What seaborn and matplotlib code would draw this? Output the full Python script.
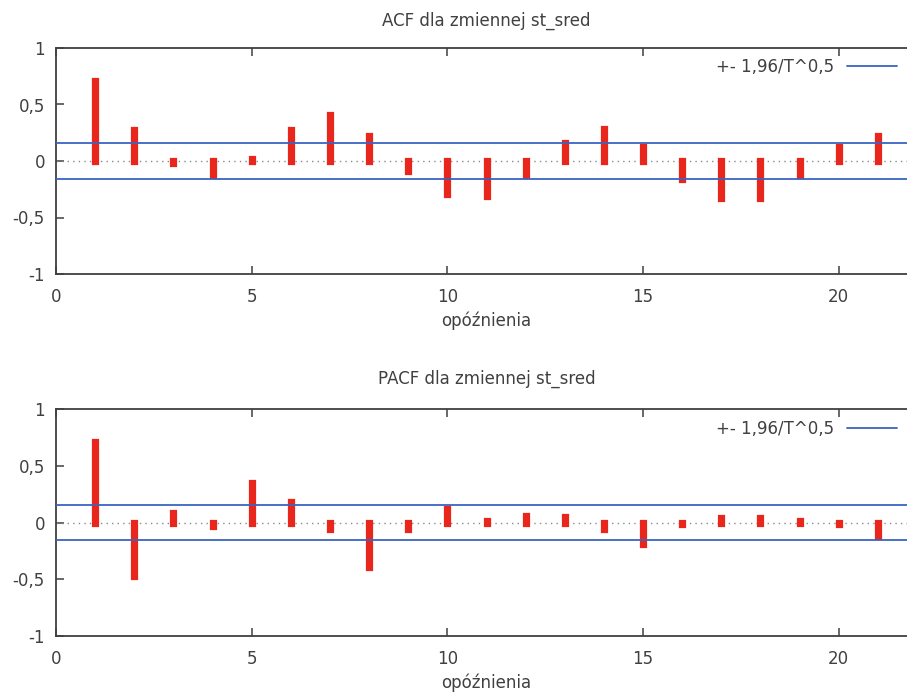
import matplotlib
matplotlib.use("Agg")
import matplotlib.pyplot as plt
import seaborn as sns
from matplotlib.lines import Line2D

# lags and correlation values
lags = [1, 2, 3, 4, 5, 6, 7, 8, 9, 10, 11, 12, 13, 14, 15, 16, 17, 18, 19, 20, 21]
acf_vals = [0.71, 0.27, -0.02, -0.12, 0.02, 0.27, 0.41, 0.22, -0.09, -0.29,
            -0.31, -0.12, 0.16, 0.28, 0.12, -0.16, -0.33, -0.33, -0.12, 0.12, 0.22]
pacf_vals = [0.71, -0.47, 0.08, -0.03, 0.35, 0.18, -0.06, -0.39, -0.06, 0.12,
             0.01, 0.06, 0.05, -0.06, -0.19, -0.01, 0.04, 0.04, 0.01, -0.01, -0.12]
band = 0.157

titles = ["ACF dla zmiennej st_sred", "PACF dla zmiennej st_sred"]
x_label = "opóźnienia"
legend_label = "+- 1,96/T^0,5"
x_ticks = [0, 5, 10, 15, 20]
y_ticks = [-1, -0.5, 0, 0.5, 1]
y_tick_labels = ["-1", "-0,5", "0", "0,5", "1"]

sns.set_theme(style="ticks")
plt.rcParams['font.family'] = ['DejaVu Sans']
txt = '#404040'
red = '#e8261c'
blue = '#3a64c2'
fs = 12

fig = plt.figure(figsize=(9.07, 6.96), dpi=100)
# right spine falls outside the picture, like in the reference crop
ax_top = fig.add_axes([56 / 907, 1 - 274 / 696, 861 / 907, 226 / 696])
ax_bot = fig.add_axes([56 / 907, 1 - 636 / 696, 861 / 907, 227 / 696])

panels = [(ax_top, acf_vals, titles[0], 16, 1 - 58 / 696),
          (ax_bot, pacf_vals, titles[1], 18.5, 1 - 420 / 696)]

for ax, vals, title, tpad, leg_y in panels:
    ax.axhline(0, color='#8a8a8a', lw=1.0, ls=(0, (1, 3)), zorder=1)
    ax.axhline(band, color=blue, lw=1.3, zorder=3)
    ax.axhline(-band, color=blue, lw=1.3, zorder=3)
    ax.vlines(lags, 0, vals, colors=red, linewidth=5.2, capstyle='projecting', zorder=2)

    ax.set_xlim(0, 22)
    ax.set_ylim(-1, 1)
    ax.set_xticks(x_ticks)
    ax.set_yticks(y_ticks)
    ax.set_yticklabels(y_tick_labels)
    ax.tick_params(axis='x', direction='in', top=True, bottom=True, length=6, width=1.1,
                   colors=txt, labelsize=fs, pad=10)
    ax.tick_params(axis='y', direction='in', left=True, right=True, length=6, width=1.1,
                   colors=txt, labelsize=fs, pad=8)
    for s in ax.spines.values():
        s.set_color(txt)
        s.set_linewidth(1.3)

    ax.set_title(title, fontsize=fs, color=txt, pad=tpad)
    ax.set_xlabel(x_label, fontsize=fs, color=txt, labelpad=4)

    handle = Line2D([], [], color=blue, lw=1.3)
    ax.legend([handle], [legend_label], loc='upper right', bbox_to_anchor=(897 / 907, leg_y),
              bbox_transform=fig.transFigure, frameon=False, markerfirst=False,
              fontsize=fs, handlelength=3.0, handletextpad=0.75, borderpad=0,
              borderaxespad=0, labelcolor=txt)

fig.savefig('out.png', dpi=100)
